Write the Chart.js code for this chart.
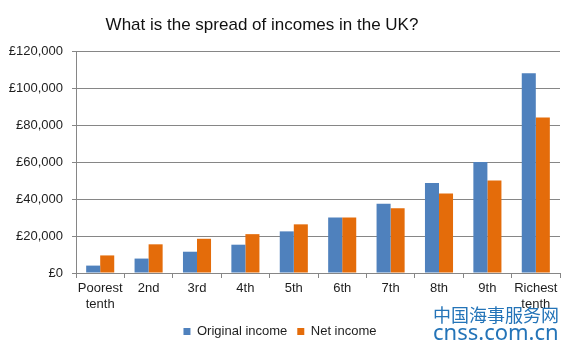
<!DOCTYPE html>
<html>
<head>
<meta charset="utf-8">
<script src="https://cdn.jsdelivr.net/npm/chart.js@4/dist/chart.umd.min.js"></script>
<style>
  html, body { margin: 0; padding: 0; background: #fff; }
  #wrap { width: 575px; height: 352px; position: relative; }
</style>
</head>
<body>
<div id="wrap"><canvas id="incomeChart"></canvas></div>
<script>
// Chart data
const chartTitle = 'What is the spread of incomes in the UK?';
const deciles = [['Poorest', 'tenth'], '2nd', '3rd', '4th', '5th', '6th', '7th', '8th', '9th', ['Richest', 'tenth']];
const originalIncome = [4000, 7800, 11500, 15300, 22500, 30000, 37500, 48700, 60000, 108000];
const netIncome = [9500, 15500, 18500, 21000, 26300, 30000, 35000, 43000, 50000, 84000];
const seriesNames = ['Original income', 'Net income'];
const yTicks = [0, 20000, 40000, 60000, 80000, 100000, 120000];
const watermarkLines = ['中国海事服务网', 'cnss.com.cn'];

const gridGrey = '#868686';
const textColor = '#1e1e1e';

// Title and watermark drawn on top of the canvas
const overlayText = {
    id: 'overlayText',
    afterDraw(chart) {
        const ctx = chart.ctx;
        ctx.save();
        ctx.fillStyle = '#111';
        ctx.font = '17px "Liberation Sans", Arial, sans-serif';
        ctx.textAlign = 'center';
        ctx.textBaseline = 'middle';
        ctx.fillText(chartTitle, 262, 25);

        ctx.fillStyle = '#2474b8';
        ctx.textAlign = 'left';
        ctx.font = '18px "Noto Sans CJK SC", sans-serif';
        ctx.fillText(watermarkLines[0], 433, 315);
        ctx.font = '22px "Noto Sans", sans-serif';
        ctx.fillText(watermarkLines[1], 433, 334);
        ctx.restore();
    }
};

const ctx = document.getElementById('incomeChart').getContext('2d');

const chart = new Chart(ctx, {
    type: 'bar',
    data: {
        labels: deciles,
        datasets: [{
            label: seriesNames[0],
            data: originalIncome,
            backgroundColor: '#4f81bd'
        }, {
            label: seriesNames[1],
            data: netIncome,
            backgroundColor: '#e46c0a'
        }]
    },
    options: {
        responsive: true,
        maintainAspectRatio: false,
        animation: false,
        layout: {
            padding: { top: 51, right: 15, bottom: 4, left: 0 }
        },
        datasets: {
            bar: { categoryPercentage: 0.58, barPercentage: 1.0 }
        },
        plugins: {
            title: { display: false },
            tooltip: { enabled: false },
            legend: {
                position: 'bottom',
                labels: {
                    boxWidth: 7,
                    boxHeight: 7,
                    padding: 10,
                    color: textColor,
                    font: { family: '"Liberation Sans", Arial, sans-serif', size: 13 }
                }
            }
        },
        scales: {
            x: {
                afterFit: function(scale) { scale.height = 42; },
                grid: {
                    offset: true,
                    drawOnChartArea: false,
                    color: gridGrey,
                    tickLength: 5
                },
                border: { color: gridGrey },
                ticks: {
                    color: textColor,
                    padding: 3,
                    maxRotation: 0,
                    autoSkip: false,
                    font: { family: '"Liberation Sans", Arial, sans-serif', size: 13 }
                }
            },
            y: {
                min: 0,
                max: 120000,
                afterFit: function(scale) { scale.width = 76; },
                afterBuildTicks: function(scale) {
                    scale.ticks = yTicks.map(v => ({ value: v }));
                },
                grid: {
                    color: gridGrey,
                    tickLength: 4
                },
                border: { color: gridGrey },
                ticks: {
                    color: textColor,
                    padding: 9,
                    font: { family: '"Liberation Sans", Arial, sans-serif', size: 13 },
                    callback: function(value) {
                        return '£' + value.toLocaleString('en-GB');
                    }
                }
            }
        }
    },
    plugins: [overlayText]
});
</script>
</body>
</html>
